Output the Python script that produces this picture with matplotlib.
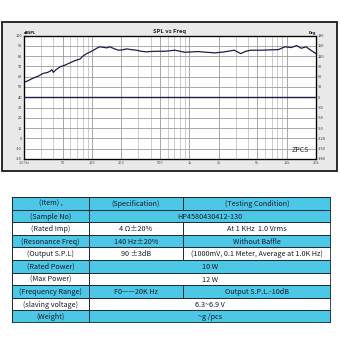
import matplotlib.pyplot as plt
import numpy as np
from matplotlib.patches import Rectangle

plt.rcParams['font.family'] = ['Noto Sans CJK SC', 'DejaVu Sans']

# SPL curve
freq = [20, 22, 25, 28, 31.5, 34.4, 37, 38.6, 40, 42.7, 46.9, 52.6, 59, 66.7, 75.4,
        80.7, 88.1, 95.4, 103.4, 112.6, 120.6, 129.3, 141, 152.6, 167.4, 186, 203,
        227.5, 251, 287, 319, 363, 392, 459, 565, 713, 899, 1217, 1821, 2293, 2891,
        3377, 3727, 4248, 5350, 8226, 9573, 11160, 12640, 14070, 15800, 17700, 20000]
spl = [54.4, 56.1, 58.7, 60.5, 63.2, 63.9, 65.2, 66.8, 64.2, 66.8, 69.5, 71.2, 73.3,
       75.6, 77.2, 80.0, 82.4, 83.9, 85.7, 87.8, 89.0, 88.6, 88.0, 89.0, 87.3, 85.7,
       86.0, 87.0, 86.3, 85.7, 84.7, 84.1, 84.4, 84.7, 84.7, 85.7, 83.7, 84.4, 83.1,
       84.1, 85.7, 82.4, 84.4, 85.7, 85.7, 86.3, 89.0, 88.3, 90.2, 87.6, 89.0, 85.7, 82.4]

# phase curve (flat)
phase_freq = [20, 20000]
phase = [0, 0]

x_ticks = [20, 50, 100, 200, 500, 1000, 2000, 5000, 10000, 20000]
x_labels = ['20 Hz', '50', '100', '200', '500', '1k', '2k', '5k', '10k', '20k']
db_ticks = list(range(-20, 101, 10))
deg_ticks = list(range(-180, 181, 30))

# table
items = ['(Item) ,', '(Sample No)', '(Rated Imp)', '(Resonance Freq)', '(Output S.P.L)',
         '(Rated Power)', '(Max Power)', '(Frequency Range)', '(slaving voltage)', '(Weight)']
specs = ['(Specification)', 'HP4580430412-130', '4 Ω±20%', '140 Hz±20%', '90 ±3dB',
         '10 W', '12 W', 'F0——20K Hz', '6.3~6.9 V', '~g /pcs']
conds = ['(Testing Condition)', None, 'At 1 KHz  1.0 Vrms', 'Without Baffle',
         '(1000mV, 0.1 Meter, Average at 1.0K Hz)', None, None, 'Output S.P.L.-10dB',
         None, None]
row_cyan = [True, True, False, True, False, True, False, True, False, True]

W, H = 340, 340
fig = plt.figure(figsize=(3.4, 3.4), dpi=100)
fig.patch.set_facecolor('white')

# chart panel
fig.patches.append(Rectangle((2 / W, 1 - 171 / H), 335 / W, 149 / H, transform=fig.transFigure,
                             facecolor='#e9e9e9', edgecolor='#1a1a1a', lw=1.3, zorder=-5))

ax = fig.add_axes([24 / W, 1 - 159 / H, 292 / W, 123.5 / H])
ax.set_facecolor('white')
ax.set_xscale('log')
ax.set_xlim(20, 20000)
ax.set_ylim(-20, 100)
ax.set_yticks(db_ticks)
ax.set_yticklabels([str(v) for v in db_ticks], fontsize=2.8, color='#333333')
ax.set_xticks(x_ticks)
ax.set_xticklabels(x_labels, fontsize=2.8, color='#664444')
ax.xaxis.set_minor_formatter(plt.NullFormatter())
ax.tick_params(axis='both', which='both', length=0, pad=1.5)
ax.grid(True, which='major', color='#9a9a9a', lw=0.6)
ax.grid(True, which='minor', axis='x', color='#b8b8b8', lw=0.5)
for s in ax.spines.values():
    s.set_linewidth(0.9)
    s.set_color('#111111')

ax.plot(freq, spl, color='#1c1c4a', lw=0.9, zorder=3)

ax2 = ax.twinx()
ax2.set_ylim(-180, 180)
ax2.set_yticks(deg_ticks)
ax2.set_yticklabels([str(v) for v in deg_ticks], fontsize=2.8, color='#333333')
ax2.tick_params(axis='y', length=0, pad=1.5)
ax2.plot(phase_freq, phase, color='#1c1c4a', lw=1.0, zorder=3)

ax.text(0, 1.005, 'dBSPL', transform=ax.transAxes, fontsize=2.8, ha='left', va='bottom',
        fontweight='bold')
ax.text(1, 1.005, 'Deg', transform=ax.transAxes, fontsize=2.8, ha='right', va='bottom',
        fontweight='bold')
ax.text(0.5, 1.015, 'SPL vs Freq', transform=ax.transAxes, fontsize=4.2, ha='center',
        va='bottom', fontweight='bold', color='#222222')
ax.text(0.975, 0.04, 'ZPCS', transform=ax.transAxes, fontsize=5, ha='right', va='bottom',
        style='italic', color='#222222')

# table
tax = fig.add_axes([12 / W, 1 - 323 / H, 319 / W, 126 / H])
tax.set_xlim(0, 319)
tax.set_ylim(len(items), 0)
tax.axis('off')
col_edges = [0, 77, 171, 319]
cyan = '#4cc7e6'
edge = '#1b2a3a'
fs = 5.2
for i, (it, sp, cd) in enumerate(zip(items, specs, conds)):
    fc = cyan if row_cyan[i] else 'white'
    tax.add_patch(Rectangle((col_edges[0], i), col_edges[1] - col_edges[0], 1,
                            facecolor=fc, edgecolor=edge, lw=0.7))
    tax.text((col_edges[0] + col_edges[1]) / 2, i + 0.55, it, ha='center', va='center',
             fontsize=fs, color='#1a1a2a')
    if cd is None:
        tax.add_patch(Rectangle((col_edges[1], i), col_edges[3] - col_edges[1], 1,
                                facecolor=fc, edgecolor=edge, lw=0.7))
        tax.text((col_edges[1] + col_edges[3]) / 2, i + 0.55, sp, ha='center', va='center',
                 fontsize=fs, color='#1a1a2a')
    else:
        tax.add_patch(Rectangle((col_edges[1], i), col_edges[2] - col_edges[1], 1,
                                facecolor=fc, edgecolor=edge, lw=0.7))
        tax.add_patch(Rectangle((col_edges[2], i), col_edges[3] - col_edges[2], 1,
                                facecolor=fc, edgecolor=edge, lw=0.7))
        tax.text((col_edges[1] + col_edges[2]) / 2, i + 0.55, sp, ha='center', va='center',
                 fontsize=fs, color='#1a1a2a')
        tax.text((col_edges[2] + col_edges[3]) / 2, i + 0.55, cd, ha='center', va='center',
                 fontsize=fs, color='#1a1a2a')
tax.add_patch(Rectangle((0, 0), 319, len(items), facecolor='none', edgecolor=edge, lw=1.2))

fig.savefig('out.png', dpi=100)
